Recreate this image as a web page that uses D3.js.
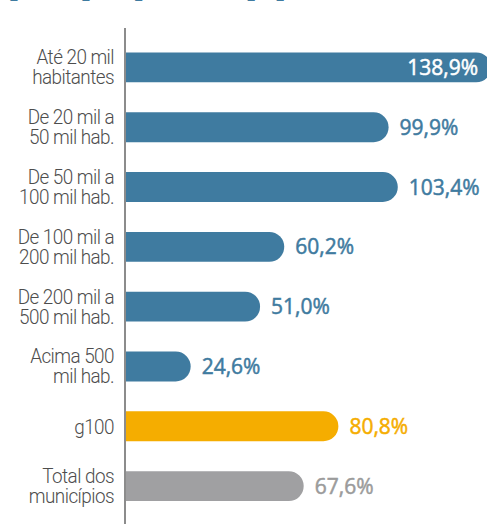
<!DOCTYPE html>
<html>
<head>
<meta charset="utf-8">
<script src="https://d3js.org/d3.v7.min.js"></script>
<style>
  body { margin: 0; background: #fff; }
  svg { display: block; }
</style>
</head>
<body>
<svg id="chart" width="487" height="524"></svg>
<script>
// data
var categories = [
    ["Até 20 mil", "habitantes"],
    ["De 20 mil a", "50 mil hab."],
    ["De 50 mil a", "100 mil hab."],
    ["De 100 mil a", "200 mil hab."],
    ["De 200 mil a", "500 mil hab."],
    ["Acima 500", "mil hab."],
    ["g100"],
    ["Total dos", "municípios"]
];
var values = [138.9, 99.9, 103.4, 60.2, 51.0, 24.6, 80.8, 67.6];
var groups = ["faixa", "faixa", "faixa", "faixa", "faixa", "faixa", "g100", "total"];

var COLORS = {faixa: "#3f7ba0", g100: "#f5ad00", total: "#a0a0a2"};
var LABEL_COLORS = {faixa: "#3f7ba0", g100: "#f5ad00", total: "#9b9b9b"};

var svg = d3.select("#chart");

var rows = values.map(function (v, i) {
    return {cat: categories[i], value: v, group: groups[i]};
});

var x = d3.scaleLinear().domain([0, 140]).range([126, 494]);
var y = d3.scaleBand()
    .domain(d3.range(rows.length))
    .range([37.5, 516])
    .paddingInner(0.5)
    .paddingOuter(0.25);

// cut-off title at the top, only descenders show
svg.append("text")
    .attr("x", 10)
    .attr("y", -5)
    .style("font-family", "'Liberation Serif', serif")
    .style("font-weight", "bold")
    .style("font-size", "27.5px")
    .style("fill", "#3f7ba0")
    .text("per capita por faixa populacional");

function barPath(d)
{
    var x0 = x(0), x1 = x(d.value), y0 = y(rows.indexOf(d)), h = y.bandwidth(), r = h / 2;
    return "M" + x0 + "," + y0 +
        "H" + (x1 - r) +
        "A" + r + "," + r + " 0 0 1 " + (x1 - r) + "," + (y0 + h) +
        "H" + x0 + "Z";
}

svg.selectAll("path.bar")
    .data(rows)
    .enter().append("path")
    .attr("class", "bar")
    .attr("d", barPath)
    .style("fill", function (d) { return COLORS[d.group]; });

// axis line
svg.append("line")
    .attr("x1", 125).attr("x2", 125)
    .attr("y1", 28).attr("y2", 524)
    .style("stroke", "#8c8c8c")
    .style("stroke-width", 2);

// category labels (condensed look)
var cat = svg.selectAll("g.cat")
    .data(rows)
    .enter().append("g")
    .attr("class", "cat")
    .attr("transform", function (d, i) {
        return "translate(114," + (y(i) + y.bandwidth() / 2) + ") scale(0.9,1)";
    });

cat.each(function (d) {
    var g = d3.select(this);
    var n = d.cat.length;
    d.cat.forEach(function (line, j) {
        g.append("text")
            .attr("x", 0)
            .attr("y", n === 1 ? 8 : (j === 0 ? -3 : 17))
            .attr("text-anchor", "end")
            .style("font-family", "Roboto, sans-serif")
            .style("font-weight", 300)
            .style("font-size", "21px")
            .style("letter-spacing", "-0.6px")
            .style("fill", "#4d4d4d")
            .text(line);
    });
});

// value labels (regular weight plus a thin stroke, for a semibold look)
svg.selectAll("text.val")
    .data(rows)
    .enter().append("text")
    .attr("class", "val")
    .attr("x", function (d) { return x(d.value) > 470 ? 478 : x(d.value) + 11; })
    .attr("y", function (d, i) { return y(i) + y.bandwidth() / 2 + 7.5; })
    .attr("text-anchor", function (d) { return x(d.value) > 470 ? "end" : "start"; })
    .style("font-family", "'Open Sans', sans-serif")
    .style("font-weight", 400)
    .style("font-size", "21px")
    .style("stroke-width", 0.5)
    .style("fill", function (d) { return x(d.value) > 470 ? "#fff" : LABEL_COLORS[d.group]; })
    .style("stroke", function (d) { return x(d.value) > 470 ? "#fff" : LABEL_COLORS[d.group]; })
    .text(function (d) { return d3.format(".1f")(d.value).replace(".", ",") + "%"; });
</script>
</body>
</html>
